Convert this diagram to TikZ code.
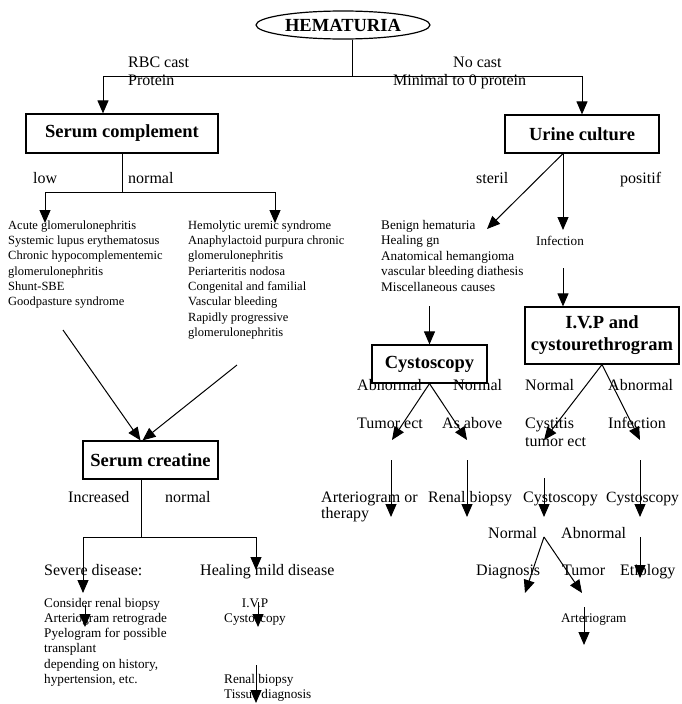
\documentclass[tikz,border=0pt]{standalone}
\usepackage{fontspec}
\setmainfont{Liberation Serif}
\usetikzlibrary{arrows.meta,shapes.geometric,calc}
\begin{document}
\begin{tikzpicture}[x=1pt,y=-1pt,
  lab/.style={anchor=base west, inner sep=0pt, font=\fontsize{16}{18}\selectfont},
  sml/.style={anchor=base west, inner sep=0pt, font=\fontsize{13.2}{15}\selectfont},
  lst/.style={anchor=north west, inner sep=0pt, align=left, font=\fontsize{12.5}{15.3}\selectfont},
  lstb/.style={anchor=north west, inner sep=0pt, align=left, font=\fontsize{13.2}{15.2}\selectfont},
  bx/.style={draw, line width=1.2pt, inner sep=0pt, font=\fontsize{18.5}{22}\selectfont\bfseries, align=center},
  ln/.style={line width=1pt},
  arr/.style={line width=1pt, -{Triangle[length=13pt,width=11pt]}}
]
\useasboundingbox (0,0) rectangle (681,704);

% root
\node[ellipse, draw, line width=1.2pt, minimum width=174pt, minimum height=28pt, inner sep=0pt,
      font=\fontsize{18.5}{22}\selectfont\bfseries] (hem) at (343,25) {HEMATURIA};
\coordinate (j1) at (352,76);
\draw[ln] (j1 |- hem.south) -- (j1);

% first level boxes
\node[bx, minimum width=192pt, minimum height=39pt] (sc) at (122,133.5) {Serum complement};
\node[bx, minimum width=154pt, minimum height=38pt] (uc) at (582,134) {Urine culture};
\draw[arr] (j1) -| ($(sc.north)+(-19,0)$);
\draw[arr] (j1) -| (uc.north);

\node[lst, font=\fontsize{16}{18}\selectfont] (rbc) at (128,54.4) {\strut RBC cast\\Protein};
\node[lab] (nc1) at (453,67) {No cast};
\node[lab] (nc2) at (393,85) {Minimal to 0 protein};

% left branch
\node[lab] (low) at (33,183) {low};
\node[lab] (nor1) at (128,183) {normal};
\coordinate (j2) at (122,192);
\coordinate (a1) at (45,223);
\coordinate (a2) at (275,223);
\draw[ln] (sc.south) -- (j2);
\draw[arr] (j2) -| (a1);
\draw[arr] (j2) -| (a2);

\node[lst] (ll) at (8,218.3) {\strut Acute glomerulonephritis\\Systemic lupus erythematosus\\Chronic hypocomplementemic\\glomerulonephritis\\Shunt-SBE\\Goodpasture syndrome};
\node[lst] (rl) at (188,218.3) {\strut Hemolytic uremic syndrome\\Anaphylactoid purpura chronic\\glomerulonephritis\\Periarteritis nodosa\\Congenital and familial\\Vascular bleeding\\Rapidly progressive\\glomerulonephritis};

% serum creatine
\node[bx, minimum width=135pt, minimum height=38pt] (cr) at (150.5,460) {Serum creatine};
\coordinate (d1) at (63,330);
\coordinate (d2) at (237,365);
\draw[arr] (d1) -- ($(cr.north)+(-10,0)$);
\draw[arr] (d2) -- ($(cr.north)+(-8,0)$);
\node[lab] (inc) at (68,502) {Increased};
\node[lab] (nor2) at (165,502) {normal};
\coordinate (j3) at (141,537);
\coordinate (a3) at (83,593);
\coordinate (a4) at (256,570);
\draw[ln] ($(cr.south)+(-9.5,0)$) -- (j3);
\draw[arr] (j3) -| (a3);
\draw[arr] (j3) -| (a4);

\node[lab] (sev) at (44,575) {Severe disease:};
\node[lab] (heal) at (200,575) {Healing mild disease};
\node[lstb] (cons) at (44,596.4) {\strut Consider renal biopsy\\Arteriogram retrograde\\Pyelogram for possible\\transplant\\depending on history,\\hypertension, etc.};
\node[lstb, anchor=north, align=center] (ivpc) at (255,596.4) {\strut I.V.P\\Cystoscopy};
\node[lstb] (rbt) at (224,672.4) {\strut Renal biopsy\\Tissue diagnosis};
\coordinate (s1) at (85,605); \coordinate (e1) at (85,627);
\coordinate (s2) at (258,602); \coordinate (e2) at (258,627);
\coordinate (s3) at (256,665); \coordinate (e3) at (256,703);
\draw[arr] (s1) -- (e1);
\draw[arr] (s2) -- (e2);
\draw[arr] (s3) -- (e3);

% right branch
\node[lab] (ster) at (476,183) {steril};
\node[lab] (posi) at (620,183) {positif};
\coordinate (ucout) at ($(uc.south)+(-19,0)$);
\coordinate (a5) at (487,229);
\coordinate (a6) at (563,230);
\draw[arr] (ucout) -- (a5);
\draw[arr] (ucout) -- (a6);
\node[lstb, font=\fontsize{13.2}{15.5}\selectfont] (ben) at (381,218.15) {\strut Benign hematuria\\Healing gn\\Anatomical hemangioma\\vascular bleeding diathesis\\Miscellaneous causes};
\node[sml] (inf1) at (536,245) {Infection};

\node[bx, minimum width=115pt, minimum height=38pt] (cy) at (429.5,364) {Cystoscopy};
\node[bx, minimum width=154pt, minimum height=57pt] (ivp) at (602,335.5) {I.V.P and\\cystourethrogram};
\coordinate (s7) at (563,268);
\coordinate (s8) at (429.5,306);
\draw[arr] (s7) -- (s7 |- ivp.north);
\draw[arr] (s8) -- (cy.north);

% cystoscopy branch
\node[lab] (ab1) at (357,390) {Abnormal};
\node[lab] (no3) at (453,390) {Normal};
\coordinate (a9) at (392,440);
\coordinate (a10) at (467,440);
\draw[arr] (cy.south) -- (a9);
\draw[arr] (cy.south) -- (a10);
\node[lab] (tum1) at (357,428) {Tumor ect};
\node[lab] (asab) at (442,428) {As above};
\coordinate (s9) at (391,460); \coordinate (e9) at (391,517);
\coordinate (s10) at (467,460); \coordinate (e10) at (467,517);
\draw[arr] (s9) -- (e9);
\draw[arr] (s10) -- (e10);
\node[lst, font=\fontsize{16}{16.7}\selectfont] (art1) at (321,490.3) {\strut Arteriogram or\\therapy};
\node[lab] (rb2) at (428,502) {Renal biopsy};

% IVP branch
\node[lab] (no4) at (525,390) {Normal};
\node[lab] (ab2) at (608,390) {Abnormal};
\coordinate (a11) at (544,440);
\coordinate (a12) at (640,440);
\draw[arr] (ivp.south) -- (a11);
\draw[arr] (ivp.south) -- (a12);
\node[lst, font=\fontsize{16}{18.4}\selectfont] (cyst) at (525,415.1) {\strut Cystitis\\tumor ect};
\node[lab] (inf2) at (608,428) {Infection};
\coordinate (s11) at (544,478); \coordinate (e11) at (544,517);
\coordinate (s12) at (640,460); \coordinate (e12) at (640,517);
\draw[arr] (s11) -- (e11);
\draw[arr] (s12) -- (e12);
\node[lab] (cy2) at (523,502) {Cystoscopy};
\node[lab, font=\fontsize{15.6}{18}\selectfont] (cy3) at (606,502) {Cystoscopy};

\node[lab] (no5) at (488,538) {Normal};
\node[lab] (ab3) at (561,538) {Abnormal};
\coordinate (j4) at (544,537);
\coordinate (a13) at (525,593);
\coordinate (a14) at (582,593);
\draw[arr] (j4) -- (a13);
\draw[arr] (j4) -- (a14);
\node[lab] (diag) at (476,575) {Diagnosis};
\node[lab] (tum2) at (562,575) {Tumor};
\node[lab] (eti) at (620,575) {Etiology};
\coordinate (s15) at (640,537); \coordinate (e15) at (640,578);
\draw[arr] (s15) -- (e15);
\node[sml] (art2) at (561,622) {Arteriogram};
\coordinate (s16) at (584,607); \coordinate (e16) at (584,645);
\draw[arr] (s16) -- (e16);
\end{tikzpicture}
\end{document}
